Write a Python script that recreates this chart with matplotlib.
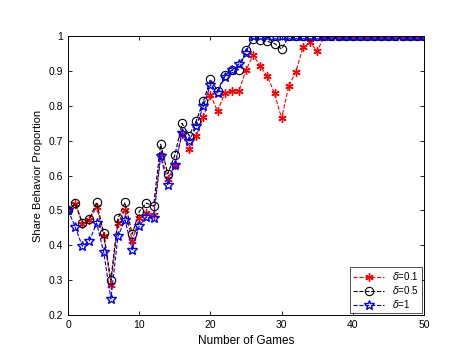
import matplotlib
matplotlib.use("Agg")
import matplotlib.pyplot as plt

plt.rcParams['font.family'] = ['Liberation Sans', 'DejaVu Sans']

# games 0..50
games = list(range(51))

# delta = 0.1
share_d01 = [0.500, 0.519, 0.461, 0.473, 0.511, 0.427, 0.287, 0.464, 0.502, 0.413,
             0.478, 0.492, 0.488, 0.660, 0.590, 0.630, 0.718, 0.677, 0.714, 0.768,
             0.831, 0.785, 0.836, 0.843, 0.843, 0.903, 0.946, 0.914, 0.885, 0.836,
             0.764, 0.857, 0.898, 0.968, 0.982, 0.957] + [1.0] * 15

# delta = 0.5
share_d05 = [0.500, 0.521, 0.464, 0.475, 0.523, 0.435, 0.300, 0.477, 0.523, 0.432,
             0.497, 0.521, 0.512, 0.690, 0.605, 0.659, 0.750, 0.715, 0.757, 0.813,
             0.876, 0.843, 0.888, 0.902, 0.904, 0.959, 0.993, 0.990, 0.985, 0.979,
             0.963] + [1.0] * 20

# delta = 1
share_d1 = [0.500, 0.452, 0.397, 0.413, 0.464, 0.380, 0.246, 0.426, 0.473, 0.387,
            0.456, 0.481, 0.477, 0.655, 0.574, 0.631, 0.722, 0.700, 0.741, 0.799,
            0.861, 0.837, 0.884, 0.902, 0.920, 0.952] + [1.0] * 25

fig = plt.figure(figsize=(4.7, 3.62), dpi=100)
ax = fig.add_axes([0.145, 0.130, 0.757, 0.770])

asterisk = (6, 2, 0)
ax.plot(games, share_d01, color='r', ls='--', marker=asterisk, lw=0.8, ms=6, mew=1.0,
        label=r'$\delta$=0.1')
ax.plot(games, share_d05, 'k--o', lw=0.8, ms=6, mfc='none', mew=0.8, label=r'$\delta$=0.5')
ax.plot(games, share_d1, 'b--*', lw=0.8, ms=7.5, mfc='none', mew=1.0, label=r'$\delta$=1')

ax.set_xlim(0, 50)
ax.set_ylim(0.2, 1)
ax.set_xticks(range(0, 51, 10))
ax.set_yticks([0.2, 0.3, 0.4, 0.5, 0.6, 0.7, 0.8, 0.9, 1.0])
ax.set_yticklabels(['0.2', '0.3', '0.4', '0.5', '0.6', '0.7', '0.8', '0.9', '1'])
ax.tick_params(direction='in', length=3, width=0.6, labelsize=7.5, top=True, right=True)
for s in ax.spines.values():
    s.set_linewidth(0.7)

ax.set_xlabel('Number of Games', fontsize=8.5)
ax.set_ylabel('Share Behavior Proportion', fontsize=8)

leg = ax.legend(loc='lower right', fontsize=7, fancybox=False, edgecolor='black',
                borderpad=0.3, labelspacing=0.2, handlelength=3.2, borderaxespad=0.2)
leg.get_frame().set_linewidth(0.6)

fig.savefig('out.png', dpi=100)
